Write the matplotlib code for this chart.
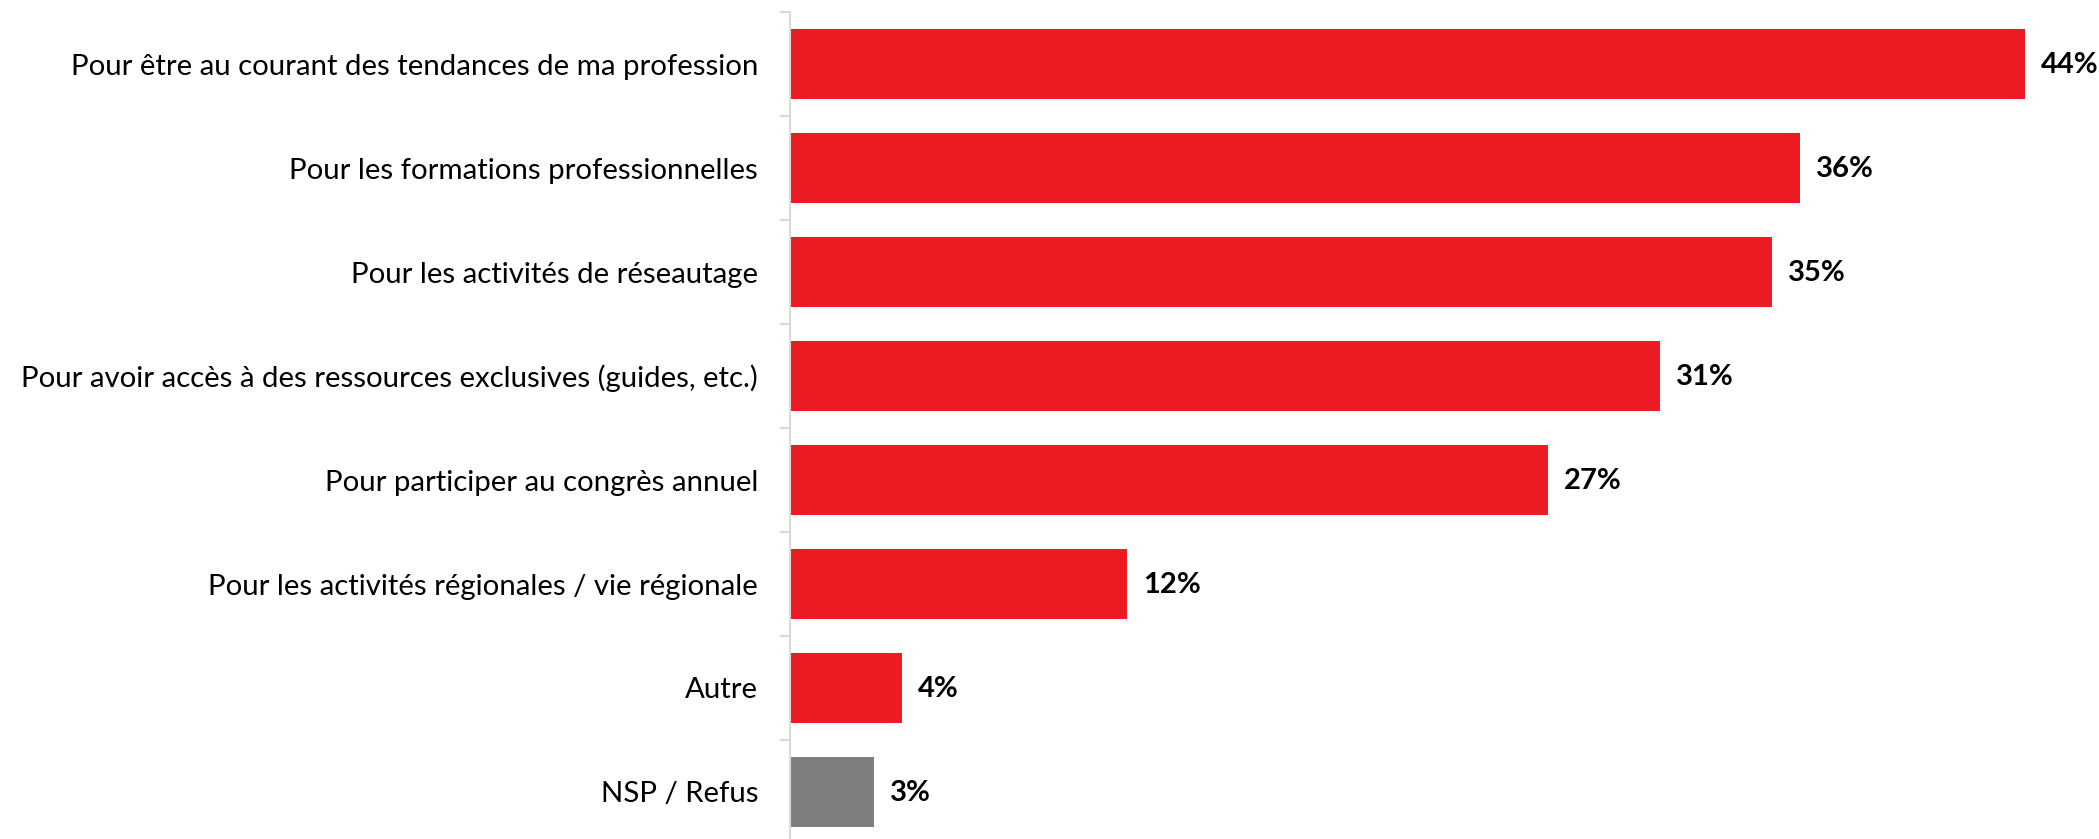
import matplotlib
matplotlib.use("Agg")
import matplotlib.pyplot as plt

categories = [
    "Pour être au courant des tendances de ma profession",
    "Pour les formations professionnelles",
    "Pour les activités de réseautage",
    "Pour avoir accès à des ressources exclusives (guides, etc.)",
    "Pour participer au congrès annuel",
    "Pour les activités régionales / vie régionale",
    "Autre",
    "NSP / Refus",
]
values = [44, 36, 35, 31, 27, 12, 4, 3]
bar_colors = ["#ED1C24"] * 7 + ["#7F7F7F"]

plt.rcParams["font.family"] = ["Lato", "DejaVu Sans"]

W, H = 2099, 839
fig = plt.figure(figsize=(W / 100, H / 100), dpi=100)
# axes spans from the spine at x=790 to the right edge; rows of 104 px
ax_left, ax_top, ax_bottom = 790, 12, 844
ax = fig.add_axes([ax_left / W, (H - ax_bottom) / H, (W - ax_left) / W, (ax_bottom - ax_top) / H])

n = len(categories)
y = list(range(n))
ax.barh(y, values, height=0.673, color=bar_colors, zorder=2)
ax.set_ylim(n - 0.5, -0.5)
px_per_pct = (2025 - ax_left) / 44.0
ax.set_xlim(0, (W - ax_left) / px_per_pct)

for yi, v in zip(y, values):
    ax.annotate(f"{v}%", (v, yi), xytext=(11.5, -1), textcoords="offset points",
                ha="left", va="center", fontsize=21, fontweight="bold",
                color="black", annotation_clip=False)

ax.set_yticks(y)
ax.set_yticklabels(categories, fontsize=21.2, color="black")
ax.tick_params(axis="y", length=0, pad=23)
# minor ticks mark the category boundaries
ax.set_yticks([i - 0.5 for i in range(n + 1)], minor=True)
ax.tick_params(axis="y", which="minor", length=7, width=1.5, color="#D9D9D9")
ax.set_xticks([])
for s in ["top", "right", "bottom"]:
    ax.spines[s].set_visible(False)
ax.spines["left"].set_color("#D9D9D9")
ax.spines["left"].set_linewidth(1.5)

fig.savefig("out.png", dpi=100)
